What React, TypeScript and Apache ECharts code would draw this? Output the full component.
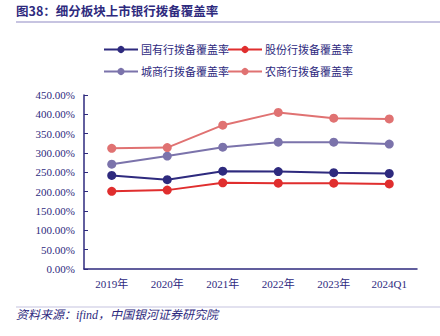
import React, { useEffect, useRef } from "react";
import * as echarts from "echarts";

const categories = ["2019年", "2020年", "2021年", "2022年", "2023年", "2024Q1"];
const seriesNames = ["国有行拨备覆盖率", "股份行拨备覆盖率", "城商行拨备覆盖率", "农商行拨备覆盖率"];
const stateOwned = [242, 231, 253, 252, 249, 247];
const jointStock = [201, 204, 223, 222, 222, 220];
const cityBanks = [271, 292, 315, 328, 328, 323];
const ruralBanks = [312, 314, 372, 405, 390, 388];
const seriesColors = ["#2e2a7e", "#e02e2e", "#7b73ab", "#e07272"];

const NAVY = "#2e2a7e";
const FONT = "'Liberation Serif', 'Noto Sans CJK SC', serif";

export default function App() {
  const ref = useRef<HTMLDivElement>(null);
  useEffect(() => {
    const chart = echarts.init(ref.current!, null, { renderer: "svg" });
    const data = [stateOwned, jointStock, cityBanks, ruralBanks];
    const legendBase = {
      left: 98,
      itemWidth: 34,
      itemHeight: 9,
      itemGap: -2,
      textStyle: { color: NAVY, fontSize: 11, fontFamily: FONT, padding: [0, 0, 0, -2] },
    };
    chart.setOption({
      animation: false,
      textStyle: { fontFamily: FONT },
      graphic: [
        {
          type: "text",
          left: 16,
          top: 4,
          style: { text: "图38：细分板块上市银行拨备覆盖率", font: "bold 12.5px 'Noto Sans CJK SC', sans-serif", fill: NAVY },
        },
        { type: "rect", shape: { x: 16, y: 21.5, width: 424, height: 1 }, style: { fill: "#8f89c4" } },
        { type: "rect", shape: { x: 16, y: 306.5, width: 424, height: 1 }, style: { fill: "#c6c4e0" } },
        {
          type: "text",
          left: 16,
          top: 309,
          style: { text: "资料来源：ifind，中国银河证券研究院", font: "italic 12px 'Liberation Serif', 'Noto Sans CJK SC', serif", fill: NAVY },
        },
      ],
      legend: [
        { ...legendBase, data: seriesNames.slice(0, 2), top: 39 },
        { ...legendBase, data: seriesNames.slice(2, 4), top: 61 },
      ],
      grid: { left: 84, right: 23, top: 95, bottom: 67, containLabel: false },
      xAxis: {
        type: "category",
        data: categories,
        boundaryGap: true,
        axisLine: { lineStyle: { color: NAVY, width: 1.5 } },
        axisTick: { inside: true, length: 4, lineStyle: { color: NAVY } },
        axisLabel: { color: NAVY, fontSize: 11, fontFamily: FONT, margin: 9 },
      },
      yAxis: {
        type: "value",
        min: 0,
        max: 450,
        interval: 50,
        splitLine: { show: false },
        axisLine: { show: true, lineStyle: { color: NAVY, width: 1.5 } },
        axisTick: { show: true, inside: true, length: 4, lineStyle: { color: NAVY } },
        axisLabel: { color: NAVY, fontSize: 11, fontFamily: FONT, margin: 9, formatter: (v: number) => v.toFixed(2) + "%" },
      },
      series: seriesNames.map((name, i) => ({
        name,
        type: "line",
        data: data[i],
        symbol: "circle",
        symbolSize: 9,
        color: seriesColors[i],
        lineStyle: { width: 2, color: seriesColors[i] },
        itemStyle: { color: seriesColors[i] },
      })),
    });
    return () => chart.dispose();
  }, []);
  return <div ref={ref} style={{ width: 440, height: 336, position: "absolute", left: 0, top: 0 }} />;
}
